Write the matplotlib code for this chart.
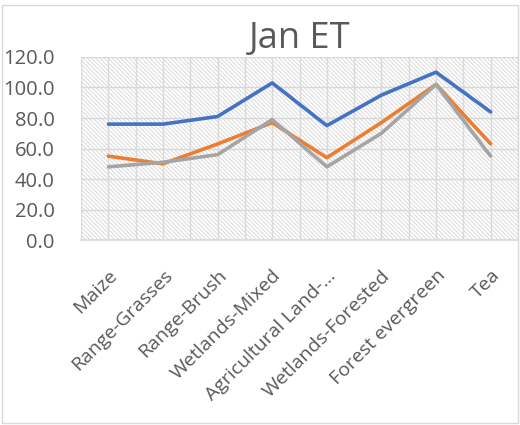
import matplotlib.pyplot as plt
import numpy as np
from matplotlib.patches import Rectangle

plt.rcParams['font.family'] = ['Open Sans', 'DejaVu Sans']
plt.rcParams['hatch.linewidth'] = 0.6

# land covers and January ET for three runs
land_covers = ['Maize', 'Range-Grasses', 'Range-Brush', 'Wetlands-Mixed',
               'Agricultural Land-...', 'Wetlands-Forested', 'Forest evergreen', 'Tea']
et_blue = [76, 76, 81, 103, 75, 95, 110, 84]
et_orange = [55, 50, 63, 77, 54, 77, 102, 63]
et_gray = [48, 51, 56, 79, 48, 70, 102, 55]

fig = plt.figure(figsize=(5.2, 4.25), dpi=100)
fig.patches.append(Rectangle((0.004, 0.004), 0.992, 0.984, transform=fig.transFigure,
                             fill=False, edgecolor='#d9d9d9', linewidth=1))
ax = fig.add_axes([0.156, 0.435, 0.84, 0.431])

# hatched plot area
ax.add_patch(Rectangle((0, 0), 1, 1, transform=ax.transAxes, facecolor='white',
                       edgecolor='#d4d4d4', linewidth=0, hatch='\\' * 8, zorder=0))

x = np.arange(len(land_covers))
ax.plot(x, et_blue, color='#4472c4', linewidth=2.6, solid_capstyle='round', zorder=3)
ax.plot(x, et_orange, color='#ed7d31', linewidth=2.6, solid_capstyle='round', zorder=3)
ax.plot(x, et_gray, color='#a5a5a5', linewidth=2.6, solid_capstyle='round', zorder=3)

ax.set_xlim(-0.5, len(land_covers) - 0.5)
ax.set_ylim(0, 120)
ax.set_yticks(np.arange(0, 121, 20))
ax.set_yticklabels(['%.1f' % v for v in np.arange(0, 121, 20)], fontsize=14.5, color='#595959')
ax.set_xticks(x)
ax.set_xticklabels(land_covers, rotation=45, ha='right', rotation_mode='anchor',
                   fontsize=14, color='#595959')
ax.tick_params(axis='both', which='both', length=0)
ax.tick_params(axis='y', pad=19)
ax.tick_params(axis='x', pad=19)

for xv in np.arange(-0.5, len(land_covers), 0.5):
    ax.axvline(xv, color='#d9d9d9', linewidth=1, zorder=1)
ax.grid(True, which='major', axis='y', color='#d9d9d9', linewidth=1, zorder=1)
for side in ['left', 'right', 'top']:
    ax.spines[side].set_visible(False)
ax.spines['bottom'].set_color('#d9d9d9')
ax.spines['bottom'].set_linewidth(1.2)

ax.set_title('Jan ET', fontsize=26, color='#595959', pad=3)

fig.savefig('out.png', dpi=100)
